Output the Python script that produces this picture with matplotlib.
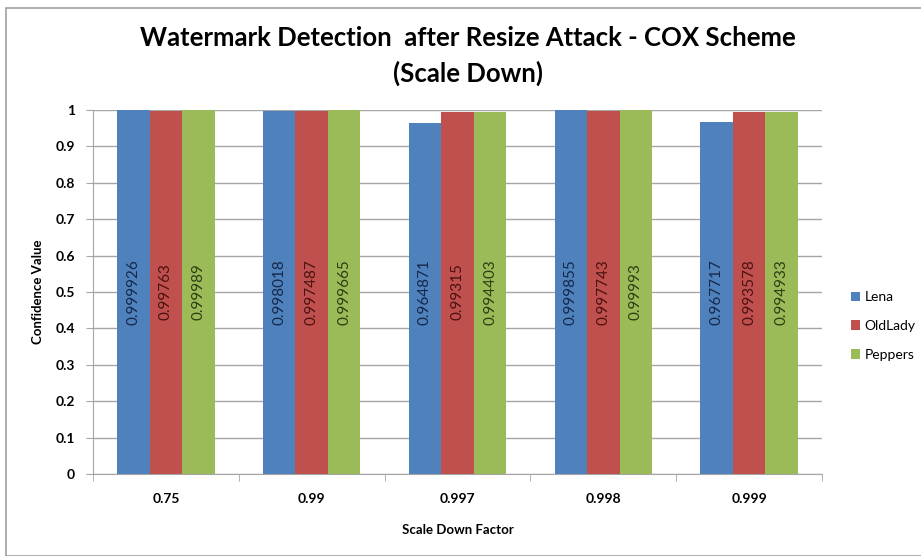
import matplotlib
matplotlib.use("Agg")
import matplotlib.pyplot as plt
import numpy as np
from matplotlib.patches import Rectangle

categories = ["0.75", "0.99", "0.997", "0.998", "0.999"]
series_names = ["Lena", "OldLady", "Peppers"]
lena = [0.999926, 0.998018, 0.964871, 0.999855, 0.967717]
oldlady = [0.99763, 0.997487, 0.99315, 0.997743, 0.993578]
peppers = [0.99989, 0.999665, 0.994403, 0.99993, 0.994933]
label_texts = [
    ["0.999926", "0.998018", "0.964871", "0.999855", "0.967717"],
    ["0.99763", "0.997487", "0.99315", "0.997743", "0.993578"],
    ["0.99989", "0.999665", "0.994403", "0.99993", "0.994933"],
]
yticks = [0, 0.1, 0.2, 0.3, 0.4, 0.5, 0.6, 0.7, 0.8, 0.9, 1]
ytick_labels = ["0", "0.1", "0.2", "0.3", "0.4", "0.5", "0.6", "0.7", "0.8", "0.9", "1"]

colors = ["#4F81BD", "#C0504D", "#9BBB59"]
text_colors = ["#14284A", "#4A1210", "#2E3D12"]

plt.rcParams['font.family'] = ['Lato', 'DejaVu Sans']

fig = plt.figure(figsize=(9.21, 5.56), dpi=100)
fig.patches.append(Rectangle((6/921, 0), 1, 1 - 8/556, transform=fig.transFigure,
                             fill=False, edgecolor="#A0A0A0", linewidth=1.2))

ax = fig.add_axes([93/921, 1 - 474/556, (822 - 93)/921, (474 - 110)/556])
x = np.arange(len(categories))
w = 0.223
all_series = [lena, oldlady, peppers]
for i, (vals, name) in enumerate(zip(all_series, series_names)):
    pos = x + (i - 1) * w
    ax.bar(pos, vals, width=w, color=colors[i], label=name, zorder=3)
    for p, t in zip(pos, label_texts[i]):
        ax.text(p, 0.5, t, rotation=90, ha="center", va="center",
                fontsize=11, color=text_colors[i], zorder=4)

ax.set_xlim(-0.5, len(categories) - 0.5)
ax.set_ylim(0, 1)
ax.set_yticks(yticks)
ax.set_yticklabels(ytick_labels, fontsize=10, fontweight="bold")
ax.yaxis.grid(True, color="#A6A6A6", linewidth=1, zorder=0)
ax.set_xticks(x)
ax.set_xticklabels(categories, fontsize=10, fontweight="bold")
ax.tick_params(axis="x", length=0, pad=14)
ax.set_xticks(np.arange(len(categories) + 1) - 0.5, minor=True)
ax.tick_params(axis="x", which="minor", length=5, color="#A6A6A6", direction="out")
ax.tick_params(axis="y", length=5, color="#A6A6A6", direction="out", pad=8)
for s in ["top", "right"]:
    ax.spines[s].set_visible(False)
for s in ["left", "bottom"]:
    ax.spines[s].set_color("#A6A6A6")
ax.set_xlabel("Scale Down Factor", fontsize=9.5, fontweight="bold", labelpad=13)
ax.set_ylabel("Confidence Value", fontsize=9.5, fontweight="bold", labelpad=8)

fig.text(468/921, 1 - 38/556, "Watermark Detection  after Resize Attack - COX Scheme",
         ha="center", va="center", fontsize=18.5, fontweight="bold")
fig.text(468/921, 1 - 73/556, "(Scale Down)", ha="center", va="center",
         fontsize=18.5, fontweight="bold")

leg = fig.legend(loc="center left", bbox_to_anchor=(838/921, 1 - 326/556), frameon=False,
                 fontsize=10, handlelength=0.7, handleheight=0.7, handletextpad=0.3,
                 labelspacing=1.2)

fig.savefig("out.png", dpi=100)
